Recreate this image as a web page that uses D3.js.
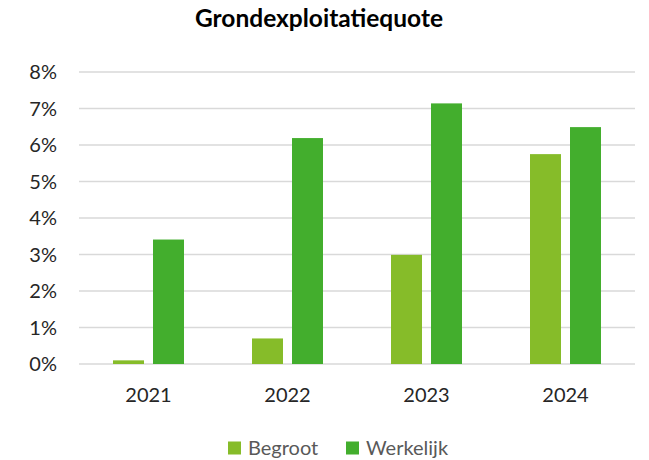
<!DOCTYPE html>
<html><head><meta charset="utf-8">
<script src="https://cdn.jsdelivr.net/npm/d3@7"></script>
<style>html,body{margin:0;padding:0;background:#fff}</style>
</head><body>
<svg id="chart" width="649" height="460"></svg>
<script>
const title = "Grondexploitatiequote";
const years = ["2021", "2022", "2023", "2024"];
const seriesNames = ["Begroot", "Werkelijk"];
const begroot = [0.10, 0.70, 2.99, 5.75];
const werkelijk = [3.41, 6.19, 7.14, 6.49];
const yTicks = [0, 1, 2, 3, 4, 5, 6, 7, 8];
const colors = ["#86BC29", "#43AE2D"];

const font = "Lato, 'Open Sans', sans-serif";
const svg = d3.select("#chart");
const m = {left: 79, right: 635, top: 72, bottom: 364};

const x = d3.scaleBand().domain(years).range([m.left, m.right]).paddingInner(0).paddingOuter(0);
const y = d3.scaleLinear().domain([0, 8]).range([m.bottom, m.top]);
const barW = 31, barGap = 9;

// gridlines
svg.append("g").selectAll("line").data(yTicks).join("line")
  .attr("x1", m.left).attr("x2", m.right)
  .attr("y1", d => y(d)).attr("y2", d => y(d))
  .attr("stroke", "#D9D9D9").attr("stroke-width", 1.3);

// y tick labels
svg.append("g").selectAll("text").data(yTicks).join("text")
  .attr("x", 57).attr("y", d => y(d)).attr("dy", "0.35em")
  .attr("text-anchor", "end").attr("font-family", font).attr("font-size", 20)
  .attr("fill", "#262626").text(d => d + "%");

// bars
const data = years.map((yr, i) => ({yr, vals: [begroot[i], werkelijk[i]]}));
const groupW = barW * 2 + barGap;
const g = svg.append("g").selectAll("g").data(data).join("g")
  .attr("transform", d => `translate(${x(d.yr) + x.bandwidth() / 2 - groupW / 2},0)`);
g.selectAll("rect").data(d => d.vals.map((v, j) => ({v, j}))).join("rect")
  .attr("x", d => d.j * (barW + barGap))
  .attr("width", barW)
  .attr("y", d => y(d.v))
  .attr("height", d => y(0) - y(d.v))
  .attr("fill", d => colors[d.j]);

// x labels
svg.append("g").selectAll("text").data(years).join("text")
  .attr("x", d => x(d) + x.bandwidth() / 2).attr("y", 402)
  .attr("text-anchor", "middle").attr("font-family", font).attr("font-size", 20)
  .attr("fill", "#262626").text(d => d);

// title
svg.append("text").attr("x", 319).attr("y", 27).attr("text-anchor", "middle")
  .attr("font-family", font).attr("font-weight", "bold").attr("font-size", 24.5)
  .attr("fill", "#000").text(title);

// legend
const legX = [228, 346];
const lg = svg.append("g").selectAll("g").data(seriesNames).join("g")
  .attr("transform", (d, i) => `translate(${legX[i]},0)`);
lg.append("rect").attr("x", 0).attr("y", 441.5).attr("width", 13).attr("height", 13)
  .attr("fill", (d, i) => colors[i]);
lg.append("text").attr("x", 20).attr("y", 448).attr("dy", "0.35em")
  .attr("font-family", font).attr("font-size", 20).attr("fill", "#595959").text(d => d);
</script>
</body></html>
